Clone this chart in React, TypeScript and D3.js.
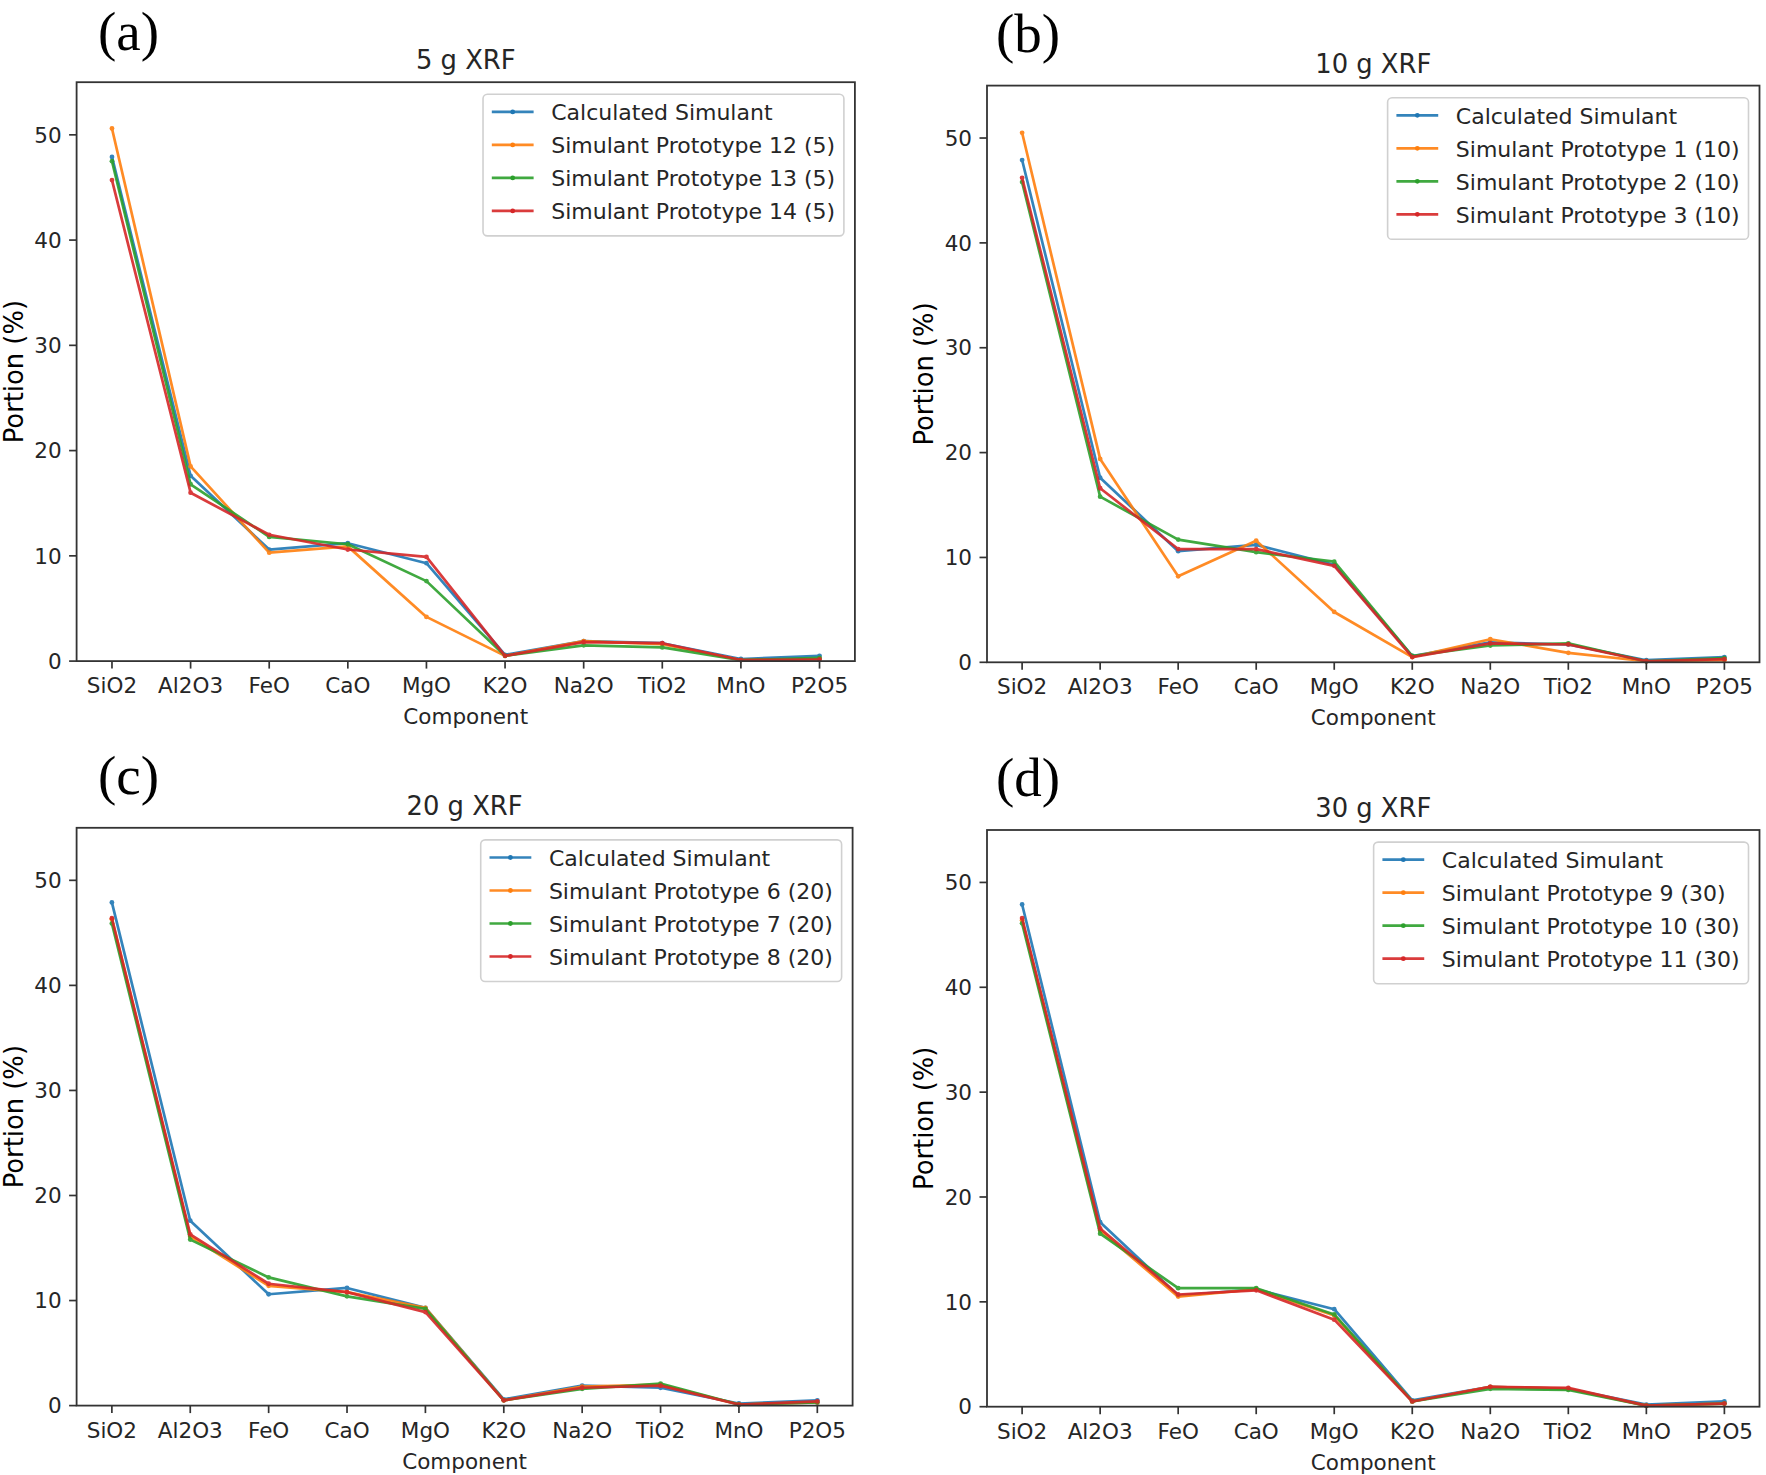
import React, { useEffect } from "react";
import * as d3 from "d3";

const categories = ["SiO2", "Al2O3", "FeO", "CaO", "MgO", "K2O", "Na2O", "TiO2", "MnO", "P2O5"];
const yTicks = [0, 10, 20, 30, 40, 50];

const calculated = [47.9, 17.6, 10.6, 11.2, 9.3, 0.6, 1.9, 1.7, 0.2, 0.5];

// 5 g
const proto12 = [50.6, 18.5, 10.3, 10.9, 4.2, 0.5, 1.9, 1.6, 0.1, 0.2];
const proto13 = [47.5, 16.8, 11.8, 11.1, 7.6, 0.5, 1.5, 1.3, 0.1, 0.3];
const proto14 = [45.7, 16.0, 12.0, 10.6, 9.9, 0.5, 1.8, 1.7, 0.1, 0.15];
// 10 g
const proto1 = [50.5, 19.4, 8.2, 11.6, 4.8, 0.5, 2.2, 0.9, 0.1, 0.2];
const proto2 = [45.8, 15.8, 11.7, 10.5, 9.6, 0.6, 1.6, 1.8, 0.1, 0.4];
const proto3 = [46.2, 16.6, 10.8, 10.8, 9.2, 0.5, 1.8, 1.7, 0.1, 0.3];
// 20 g
const proto6 = [46.3, 16.1, 11.4, 10.8, 9.3, 0.5, 1.8, 2.0, 0.1, 0.3];
const proto7 = [45.9, 15.8, 12.2, 10.4, 9.2, 0.5, 1.6, 2.1, 0.1, 0.3];
const proto8 = [46.4, 16.3, 11.6, 10.8, 8.9, 0.5, 1.7, 1.9, 0.1, 0.4];
// 30 g
const proto9 = [46.4, 16.8, 10.5, 11.2, 8.7, 0.5, 1.9, 1.7, 0.1, 0.3];
const proto10 = [46.1, 16.5, 11.3, 11.3, 8.8, 0.5, 1.7, 1.6, 0.1, 0.3];
const proto11 = [46.6, 17.0, 10.7, 11.1, 8.3, 0.5, 1.9, 1.8, 0.1, 0.3];

const colors = ["#1f77b4", "#ff7f0e", "#2ca02c", "#d62728"];

type Series = { name: string; values: number[] };
type Panel = {
  label: string;
  labelX: number;
  title: string;
  box: { l: number; r: number; t: number; b: number };
  series: Series[];
};

const panels: Panel[] = [
  {
    label: "(a)",
    labelX: 98,
    title: "5 g XRF",
    box: { l: 76.6, r: 854.9, t: 82.2, b: 661.1 },
    series: [
      { name: "Calculated Simulant", values: calculated },
      { name: "Simulant Prototype 12 (5)", values: proto12 },
      { name: "Simulant Prototype 13 (5)", values: proto13 },
      { name: "Simulant Prototype 14 (5)", values: proto14 },
    ],
  },
  {
    label: "(b)",
    labelX: 996,
    title: "10 g XRF",
    box: { l: 987, r: 1759.5, t: 85.6, b: 662.3 },
    series: [
      { name: "Calculated Simulant", values: calculated },
      { name: "Simulant Prototype 1 (10)", values: proto1 },
      { name: "Simulant Prototype 2 (10)", values: proto2 },
      { name: "Simulant Prototype 3 (10)", values: proto3 },
    ],
  },
  {
    label: "(c)",
    labelX: 98,
    title: "20 g XRF",
    box: { l: 76.6, r: 852.6, t: 827.8, b: 1405.6 },
    series: [
      { name: "Calculated Simulant", values: calculated },
      { name: "Simulant Prototype 6 (20)", values: proto6 },
      { name: "Simulant Prototype 7 (20)", values: proto7 },
      { name: "Simulant Prototype 8 (20)", values: proto8 },
    ],
  },
  {
    label: "(d)",
    labelX: 996,
    title: "30 g XRF",
    box: { l: 987, r: 1759.5, t: 830, b: 1406.7 },
    series: [
      { name: "Calculated Simulant", values: calculated },
      { name: "Simulant Prototype 9 (30)", values: proto9 },
      { name: "Simulant Prototype 10 (30)", values: proto10 },
      { name: "Simulant Prototype 11 (30)", values: proto11 },
    ],
  },
];

const FONT = "'DejaVu Sans', sans-serif";
const TICK_FS = 21.5;
const LEG_FS = 22;
const TITLE_FS = 25.8;
const YLABEL_FS = 25.8;
const LABEL_FS = 55;
const TEXT = "#262626";
const SPINE = "#333333";

let ctx: CanvasRenderingContext2D | null = null;
function measure(text: string, fs: number) {
  if (!ctx) {
    const c = document.createElement("canvas");
    ctx = c.getContext("2d");
  }
  if (!ctx) return text.length * fs * 0.6;
  ctx.font = `${fs}px 'DejaVu Sans'`;
  return ctx.measureText(text).width;
}

function PanelChart({ p }: { p: Panel }) {
  const { l, r, t, b } = p.box;
  const x = d3.scaleLinear().domain([-0.45, categories.length - 1 + 0.45]).range([l, r]);
  const y = d3.scaleLinear().domain([0, 55]).range([b, t]);
  const line = d3
    .line<number>()
    .x((_, i) => x(i))
    .y((v) => y(v));

  // legend geometry (matplotlib-like)
  const pad = 0.4 * LEG_FS;
  const handleLen = 1.9 * LEG_FS;
  const handlePad = 0.8 * LEG_FS;
  const rowH = LEG_FS * 1.5;
  const maxW = Math.max(...p.series.map((s) => measure(s.name, LEG_FS)));
  const legW = pad + handleLen + handlePad + maxW + pad;
  const legH = pad * 2 + LEG_FS + rowH * (p.series.length - 1) + 3;
  const legR = r - 0.5 * LEG_FS;
  const legT = t + 0.55 * LEG_FS;
  const legL = legR - legW;
  const cx = (l + r) / 2;
  const cy = (t + b) / 2;
  const labelY = Math.max(t - 34, LABEL_FS * 0.9);

  return (
    <g>
      <text x={p.labelX} y={labelY} fontFamily="'Liberation Serif', 'Times New Roman', serif" fontSize={LABEL_FS} fill="#000">
        {p.label}
      </text>
      <text x={cx} y={t - 13} textAnchor="middle" fontFamily={FONT} fontSize={TITLE_FS} fill={TEXT}>
        {p.title}
      </text>
      {/* series */}
      {p.series.map((s, si) => (
        <g key={si} opacity={0.9}>
          <path d={line(s.values) || ""} fill="none" stroke={colors[si]} strokeWidth={2.7} strokeLinejoin="round" />
          {s.values.map((v, i) => (
            <circle key={i} cx={x(i)} cy={y(v)} r={2.4} fill={colors[si]} />
          ))}
        </g>
      ))}
      {/* spines */}
      <rect x={l} y={t} width={r - l} height={b - t} fill="none" stroke={SPINE} strokeWidth={1.8} />
      {/* y ticks */}
      {yTicks.map((v) => (
        <g key={v}>
          <line x1={l - 7.5} x2={l} y1={y(v)} y2={y(v)} stroke={SPINE} strokeWidth={1.7} />
          <text x={l - 15} y={y(v) + 7.7} textAnchor="end" fontFamily={FONT} fontSize={TICK_FS} fill={TEXT}>
            {v}
          </text>
        </g>
      ))}
      {/* x ticks */}
      {categories.map((c, i) => (
        <g key={c}>
          <line x1={x(i)} x2={x(i)} y1={b} y2={b + 7.5} stroke={SPINE} strokeWidth={1.7} />
          <text x={x(i)} y={b + 32} textAnchor="middle" fontFamily={FONT} fontSize={TICK_FS} fill={TEXT}>
            {c}
          </text>
        </g>
      ))}
      <text x={cx} y={b + 63} textAnchor="middle" fontFamily={FONT} fontSize={TICK_FS} fill={TEXT}>
        Component
      </text>
      <text
        transform={`translate(${l - 54},${cy}) rotate(-90)`}
        textAnchor="middle"
        fontFamily={FONT}
        fontSize={YLABEL_FS}
        fill="#000"
      >
        Portion (%)
      </text>
      {/* legend */}
      <rect
        x={legL}
        y={legT}
        width={legW}
        height={legH}
        rx={4.4}
        fill="#ffffff"
        fillOpacity={0.8}
        stroke="#d0d0d0"
        strokeWidth={1.6}
      />
      {p.series.map((s, si) => {
        const base = legT + pad + LEG_FS * 0.78 + si * rowH;
        const hy = base - LEG_FS * 0.38;
        const hx1 = legL + pad;
        const hx2 = hx1 + handleLen;
        return (
          <g key={si}>
            <line x1={hx1} x2={hx2} y1={hy} y2={hy} stroke={colors[si]} strokeWidth={2.7} opacity={0.9} />
            <circle cx={(hx1 + hx2) / 2} cy={hy} r={2.4} fill={colors[si]} />
            <text x={hx2 + handlePad} y={base} fontFamily={FONT} fontSize={LEG_FS} fill={TEXT}>
              {s.name}
            </text>
          </g>
        );
      })}
    </g>
  );
}

export default function App() {
  useEffect(() => {
    document.body.style.margin = "0";
  }, []);
  return (
    <svg width={1766} height={1475} style={{ display: "block", position: "absolute", left: 0, top: 0, background: "#fff" }}>
      <rect x={0} y={0} width={1766} height={1475} fill="#fff" />
      {panels.map((p) => (
        <PanelChart key={p.label} p={p} />
      ))}
    </svg>
  );
}
